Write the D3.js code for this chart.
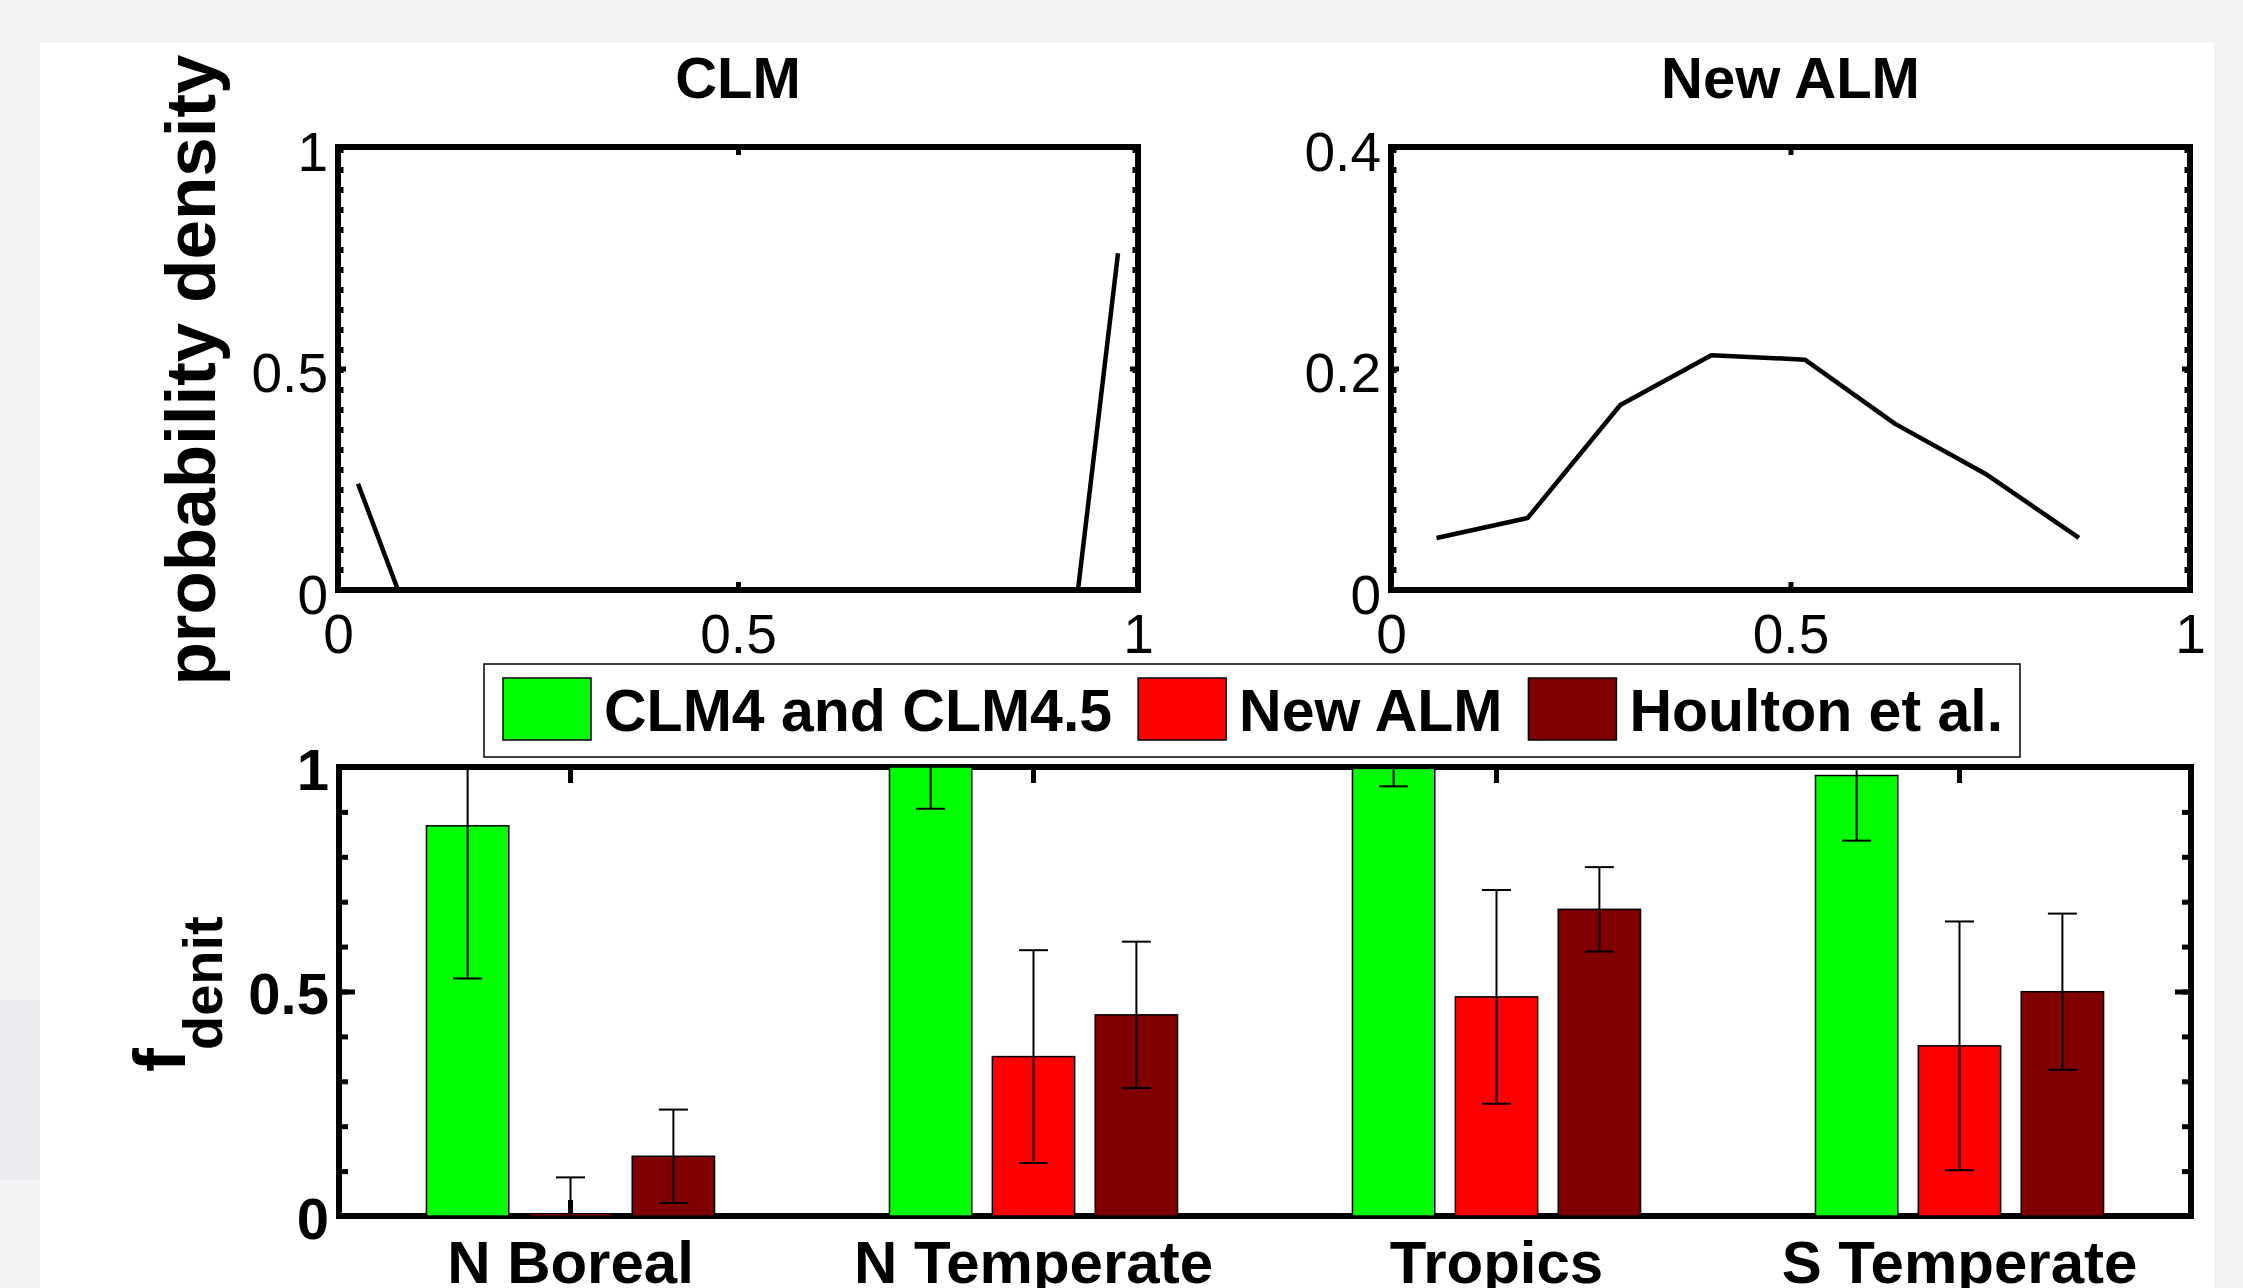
<!DOCTYPE html>
<html>
<head>
<meta charset="utf-8">
<script src="https://cdnjs.cloudflare.com/ajax/libs/d3/7.8.5/d3.min.js"></script>
<style>
  body { margin: 0; background: #f2f3f5; }
  svg { display: block; }
  text { font-family: "Liberation Sans", Arial, Helvetica, sans-serif; fill: #000; }
</style>
</head>
<body>
<div id="chart"></div>
<script>
  // top panels: probability density of f_denit
  var clmX = [0.025, 0.075, 0.125, 0.175, 0.225, 0.275, 0.325, 0.375, 0.425, 0.475,
              0.525, 0.575, 0.625, 0.675, 0.725, 0.775, 0.825, 0.875, 0.925, 0.975];
  var clmY = [0.24, 0, 0, 0, 0, 0, 0, 0, 0, 0,
              0, 0, 0, 0, 0, 0, 0, 0, 0, 0.76];
  var almX = [0.057, 0.171, 0.287, 0.401, 0.518, 0.631, 0.746, 0.861];
  var almY = [0.047, 0.065, 0.167, 0.212, 0.208, 0.150, 0.104, 0.047];

  // bottom panel: f_denit by region
  var regions = ["N Boreal", "N Temperate", "Tropics", "S Temperate"];
  var series = ["CLM4 and CLM4.5", "New ALM", "Houlton et al."];
  var colors = ["#00ff00", "#ff0000", "#800000"];
  var clmVals = [0.869, 1.0, 0.997, 0.981];
  var clmErr = [0.34, 0.093, 0.04, 0.145];
  var almVals = [0.005, 0.355, 0.488, 0.379];
  var almErr = [0.081, 0.237, 0.238, 0.277];
  var houltonVals = [0.133, 0.448, 0.683, 0.4995];
  var houltonErr = [0.104, 0.163, 0.094, 0.174];

  var w = 2243,
      h = 1288,
      lw = 6;

  var svg = d3.select("#chart").append("svg")
      .attr("width", w)
      .attr("height", h);

  // page background + white figure area
  svg.append("rect").attr("width", w).attr("height", h).attr("fill", "#f2f3f5");
  svg.append("rect").attr("x", 0).attr("y", 1000).attr("width", 40).attr("height", 180).attr("fill", "#ebecf0");
  svg.append("rect").attr("x", 40).attr("y", 43).attr("width", 2174).attr("height", h - 43).attr("fill", "#fff");

  var fmt = d3.format("");

  function styleAxis(g, size, weight) {
    g.attr("font-size", size).attr("font-family", null).attr("font-weight", weight);
    g.select(".domain").remove();
    g.selectAll(".tick line").attr("stroke", "#000").attr("stroke-width", 5);
    g.selectAll(".tick text").attr("fill", "#000");
  }

  function pdfPanel(x0, x1, yMax, yTicks, xs, ys, title) {
    var top = 147, bottom = 590;
    var x = d3.scaleLinear().domain([0, 1]).range([x0, x1]);
    var y = d3.scaleLinear().domain([0, yMax]).range([bottom, top]);
    var g = svg.append("g");

    g.append("g").attr("transform", "translate(0," + bottom + ")")
      .call(d3.axisBottom(x).tickValues([0, 0.5, 1]).tickSizeInner(-8).tickSizeOuter(0).tickPadding(24).tickFormat(fmt))
      .call(styleAxis, 55, "normal");
    g.append("g").attr("transform", "translate(0," + top + ")")
      .call(d3.axisTop(x).tickValues([0.5]).tickSizeInner(-8).tickSizeOuter(0).tickFormat(""))
      .call(styleAxis, 55, "normal");
    var ya = g.append("g").attr("transform", "translate(" + x0 + ",0)")
      .call(d3.axisLeft(y).tickValues(yTicks).tickSizeInner(-8).tickSizeOuter(0).tickPadding(10).tickFormat(fmt))
      .call(styleAxis, 55, "normal");
    ya.selectAll(".tick text").attr("dy", "0.42em");
    g.append("g").attr("transform", "translate(" + x1 + ",0)")
      .call(d3.axisRight(y).tickValues(yTicks).tickSizeInner(-8).tickSizeOuter(0).tickFormat(""))
      .call(styleAxis, 55, "normal");

    // box with the dashed inner edge look
    g.append("rect")
      .attr("x", x0).attr("y", top)
      .attr("width", x1 - x0).attr("height", bottom - top)
      .attr("fill", "none").attr("stroke", "#000").attr("stroke-width", lw);
    [x0 + 4, x1 - 4].forEach(function(xx) {
      g.append("line")
        .attr("x1", xx).attr("x2", xx).attr("y1", top).attr("y2", bottom)
        .attr("stroke", "#000").attr("stroke-width", 3)
        .attr("stroke-dasharray", "6,14");
    });

    var line = d3.line()
      .x(function(d, i) { return x(xs[i]); })
      .y(function(d) { return y(d); });
    g.append("path").datum(ys)
      .attr("d", line)
      .attr("fill", "none")
      .attr("stroke", "#000")
      .attr("stroke-width", 4.5)
      .attr("stroke-linejoin", "round");

    g.append("text")
      .attr("x", (x0 + x1) / 2).attr("y", 98)
      .attr("text-anchor", "middle")
      .attr("font-size", 58).attr("font-weight", "bold")
      .text(title);
  }

  pdfPanel(338, 1138, 1, [0, 0.5, 1], clmX, clmY, "CLM");
  pdfPanel(1391, 2190, 0.4, [0, 0.2, 0.4], almX, almY, "New ALM");

  svg.append("text")
    .attr("transform", "translate(215,370) rotate(-90)")
    .attr("text-anchor", "middle")
    .attr("font-size", 71).attr("font-weight", "bold")
    .text("probability density");

  // bottom bar chart
  var bl = 339, br = 2191, bt = 767, bb = 1216;
  var xB = d3.scaleBand().domain(regions).range([bl, br]);
  var bw = xB.bandwidth();
  var xSub = d3.scaleBand().domain(series).range([-bw / 3, bw / 3]).paddingInner(0.2).paddingOuter(0.1);
  var yB = d3.scaleLinear().domain([0, 1]).range([bb, bt]);
  var color = d3.scaleOrdinal().domain(series).range(colors);

  var vals = [clmVals, almVals, houltonVals],
      errs = [clmErr, almErr, houltonErr];
  var rows = [];
  regions.forEach(function(r, i) {
    series.forEach(function(s, j) {
      rows.push({region: r, series: s, v: vals[j][i], e: errs[j][i]});
    });
  });

  var gb = svg.append("g");
  svg.append("clipPath").attr("id", "clipB")
    .append("rect").attr("x", bl).attr("y", bt - 1).attr("width", br - bl).attr("height", bb - bt + 2);

  // axes sit under the data, like the original
  gb.append("g").attr("transform", "translate(0," + bb + ")")
    .call(d3.axisBottom(xB).tickSizeInner(-16).tickSizeOuter(0).tickPadding(24))
    .call(styleAxis, 60, "bold");
  gb.append("g").attr("transform", "translate(0," + bt + ")")
    .call(d3.axisTop(xB).tickSizeInner(-16).tickSizeOuter(0).tickFormat(""))
    .call(styleAxis, 60, "bold");
  [[bl, d3.axisLeft], [br, d3.axisRight]].forEach(function(p) {
    gb.append("g").attr("transform", "translate(" + p[0] + ",0)")
      .call(p[1](yB).ticks(10).tickSizeInner(-9).tickSizeOuter(0).tickFormat(""))
      .call(styleAxis, 58, "bold");
  });
  var yl = gb.append("g").attr("transform", "translate(" + bl + ",0)")
    .call(d3.axisLeft(yB).tickValues([0, 0.5, 1]).tickSizeInner(-16).tickSizeOuter(0).tickPadding(10).tickFormat(fmt))
    .call(styleAxis, 58, "bold");
  yl.selectAll(".tick text").attr("dy", "0.38em");
  gb.append("g").attr("transform", "translate(" + br + ",0)")
    .call(d3.axisRight(yB).tickValues([0, 0.5, 1]).tickSizeInner(-16).tickSizeOuter(0).tickFormat(""))
    .call(styleAxis, 58, "bold");

  gb.append("rect")
    .attr("x", bl).attr("y", bt)
    .attr("width", br - bl).attr("height", bb - bt)
    .attr("fill", "none").attr("stroke", "#000").attr("stroke-width", lw);

  var plot = gb.append("g").attr("clip-path", "url(#clipB)");
  plot.selectAll("rect.bar").data(rows)
    .enter().append("rect")
    .attr("class", "bar")
    .attr("x", function(d) { return xB(d.region) + bw / 2 + xSub(d.series); })
    .attr("y", function(d) { return yB(d.v); })
    .attr("width", xSub.bandwidth())
    .attr("height", function(d) { return yB(0) - yB(d.v); })
    .attr("fill", function(d) { return color(d.series); })
    .attr("stroke", "#000")
    .attr("stroke-width", 1.5);

  var cap = 14.5;
  var eb = plot.selectAll("g.err").data(rows)
    .enter().append("g")
    .attr("class", "err")
    .attr("transform", function(d) {
      return "translate(" + (xB(d.region) + bw / 2 + xSub(d.series) + xSub.bandwidth() / 2) + ",0)";
    })
    .attr("stroke", "#000")
    .attr("stroke-width", 2);
  eb.append("line")
    .attr("y1", function(d) { return yB(d.v - d.e); })
    .attr("y2", function(d) { return yB(d.v + d.e); });
  eb.append("line")
    .attr("x1", -cap).attr("x2", cap)
    .attr("y1", function(d) { return yB(d.v + d.e); })
    .attr("y2", function(d) { return yB(d.v + d.e); });
  eb.append("line")
    .attr("x1", -cap).attr("x2", cap)
    .attr("y1", function(d) { return yB(d.v - d.e); })
    .attr("y2", function(d) { return yB(d.v - d.e); });

  var ylab = svg.append("text")
    .attr("transform", "translate(185,1072) rotate(-90)")
    .attr("font-weight", "bold");
  ylab.append("tspan").attr("font-size", 72).text("f");
  ylab.append("tspan").attr("font-size", 56).attr("dy", 37).attr("dx", -2).text("denit");

  // legend
  var leg = svg.append("g");
  leg.append("rect")
    .attr("x", 484).attr("y", 664).attr("width", 1536).attr("height", 93)
    .attr("fill", "#fff").attr("stroke", "#000").attr("stroke-width", 1.5);
  var lx = 503;
  series.forEach(function(s) {
    leg.append("rect")
      .attr("x", lx).attr("y", 678).attr("width", 88).attr("height", 62)
      .attr("fill", color(s)).attr("stroke", "#000").attr("stroke-width", 1.5);
    var t = leg.append("text")
      .attr("x", lx + 101).attr("y", 731)
      .attr("font-size", 59).attr("font-weight", "bold")
      .text(s);
    lx = lx + 101 + t.node().getComputedTextLength() + 26;
  });
</script>
</body>
</html>
